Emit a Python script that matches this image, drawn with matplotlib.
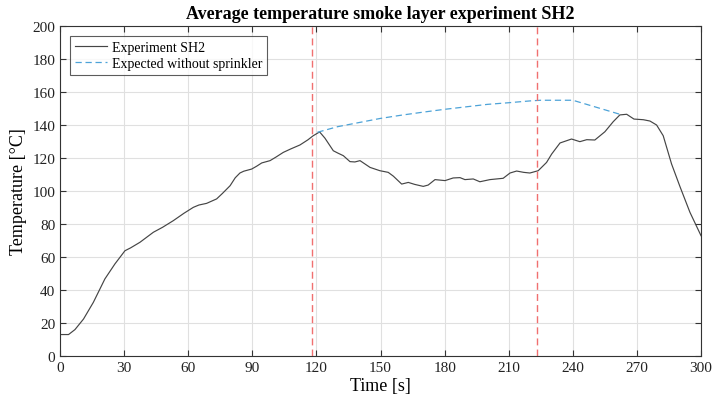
import numpy as np
import matplotlib.pyplot as plt

plt.rcParams['font.family'] = ['Liberation Serif', 'DejaVu Serif']

# measured smoke layer temperature
t_exp = [0, 4, 7, 11, 15.6, 21, 25.7, 30.4, 33, 37.4, 43.7, 48, 53, 58, 62.4, 65, 68.6, 73.3,
         76, 79.6, 82, 84.2, 86, 89.7, 92, 94.4, 98.3, 101, 104.5, 108, 112.3, 116, 118.5,
         121.5, 124, 127.9, 130, 132.6, 135.7, 138, 140.4, 145.1, 149.7, 153.6, 156,
         159.9, 163, 166, 170, 172.3, 175.5, 180.2, 184, 187.2, 189.5, 193.4, 196.5,
         201.2, 207.4, 210.6, 213.7, 217, 219.9, 223.8, 227.7, 230.1, 234, 239.4, 243.3,
         246.5, 250.3, 255, 258.9, 262, 265.2, 268.6, 273, 276.1, 279.2, 282.3, 286.2,
         290.1, 294.8, 300]
T_exp = [13, 13, 16, 22.4, 32.5, 46.7, 55.8, 63.8, 65.5, 68.9, 75, 78, 82, 86.5, 90.1, 91.5,
         92.5, 95.2, 98.5, 103.2, 108, 110.9, 112, 113.3, 115, 117, 118.4, 120.5, 123.4,
         125.5, 127.9, 131, 133.5, 135.8, 132, 124.4, 123, 121.4, 117.8, 117.6, 118.4,
         114.3, 112.3, 111.3, 109, 104.2, 105.2, 104, 102.8, 103.6, 106.9, 106.3, 107.9,
         108.1, 106.9, 107.3, 105.6, 106.9, 107.7, 110.9, 112.1, 111.3, 110.9, 112.3,
         117.3, 122.4, 129.1, 131.5, 129.9, 131.1, 130.9, 135.9, 142, 146.1, 146.5, 143.6,
         143.2, 142.4, 140, 133.5, 116.4, 102.8, 87.1, 72.9]

# expected curve without sprinkler
t_exp_ns = [120.5, 130, 140, 150, 160, 170, 180, 190, 200, 210, 220, 225, 240, 262]
T_exp_ns = [135.6, 139, 141.5, 144, 146, 147.8, 149.5, 151, 152.5, 153.5, 154.6, 155, 155, 146.5]

sprinkler_times = [118, 223]

fig = plt.figure(figsize=(7.16, 4.06), dpi=100)
ax = fig.add_axes([0.0838, 0.1207, 0.8953, 0.8128])

ax.plot(t_exp, T_exp, color='#454545', lw=0.85, label='Experiment SH2')
ax.plot(t_exp_ns, T_exp_ns, color='#4da3d8', lw=0.9, ls=(0, (5, 3)),
        label='Expected without sprinkler')
for ts in sprinkler_times:
    ax.axvline(ts, color='#f07070', lw=1.0, ls=(0, (5, 3)))

ax.set_xlim(0, 300)
ax.set_ylim(0, 200)
ax.set_xticks(np.arange(0, 301, 30))
ax.set_yticks(np.arange(0, 201, 20))
ax.grid(True, color='#e0e0e0', lw=0.8)
ax.set_axisbelow(True)
ax.tick_params(direction='in', top=True, right=True, labelsize=11, length=4,
               color='#333333', labelcolor='#222222')
for s in ax.spines.values():
    s.set_color('#333333')
    s.set_linewidth(0.8)

ax.set_xlabel('Time [s]', fontsize=13, labelpad=2)
ax.set_ylabel('Temperature [°C]', fontsize=13, labelpad=4)
ax.set_title('Average temperature smoke layer experiment SH2', fontsize=13,
             fontweight='bold', pad=6)
leg = ax.legend(loc='upper left', fontsize=10, frameon=True, fancybox=False,
                edgecolor='#333333', borderaxespad=0.7, handlelength=2.3,
                handletextpad=0.4, borderpad=0.35, labelspacing=0.25)
leg.get_frame().set_linewidth(0.8)

fig.savefig('out.png', dpi=100)
